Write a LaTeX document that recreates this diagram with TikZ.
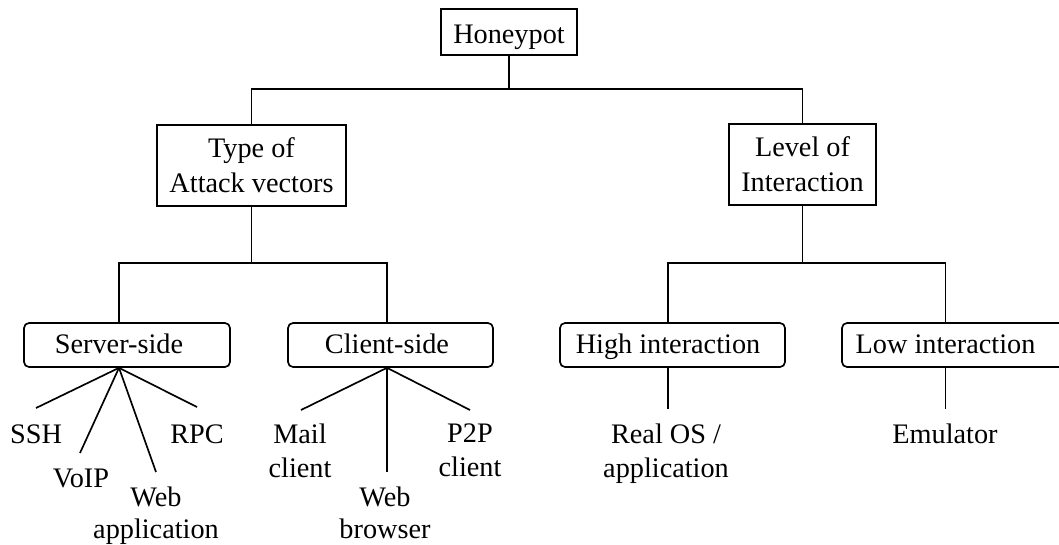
\documentclass[tikz,border=0pt]{standalone}
\usepackage{fontspec}
\setmainfont{Liberation Serif}
\begin{document}
\begin{tikzpicture}[x=0.75pt,y=-0.75pt,
  font=\fontsize{21.2pt}{25.5pt}\selectfont,
  every path/.style={line width=1.25pt},
  sqbox/.style={draw, line width=1.25pt, inner sep=0pt, align=center},
  rbox/.style={draw, line width=1.25pt, inner sep=0pt, rounded corners=3.75pt,
    minimum height=33pt, text height=14.25pt, text depth=2.25pt},
  lbl/.style={inner sep=0pt, align=center}]
\useasboundingbox (0,0) rectangle (1059,544);

% top level
\node[sqbox, minimum width=102pt, minimum height=34.5pt, text height=16.5pt, text depth=0pt] (hp) at (509,32.2) {Honeypot};
\node[sqbox, minimum width=141.75pt, minimum height=60.75pt, font=\fontsize{21.2pt}{26.25pt}\selectfont] (type) at (251.5,165.5) {Type of\\Attack vectors};
\node[sqbox, minimum width=110.25pt, minimum height=60.75pt, font=\fontsize{21.2pt}{26.25pt}\selectfont] (level) at (802.5,164.5) {Level of\\Interaction};

% second level
\node[rbox, minimum width=154.5pt] (ss) at (127,345) {Server-side\hspace*{12pt}};
\node[rbox, minimum width=153.75pt] (cs) at (390.5,345) {Client-side\hspace*{5.25pt}};
\node[rbox, minimum width=168.75pt] (hi) at (672.5,345) {High interaction\hspace*{6.75pt}};
\node[rbox, minimum width=168pt] (lo) at (954,345) {Low interaction\hspace*{12.75pt}};

% leaves
\node[lbl, anchor=base] (ssh) at (36,443) {SSH};
\node[lbl, anchor=base] (voip) at (81,487) {VoIP};
\node[lbl, font=\fontsize{21.2pt}{24pt}\selectfont] (webapp) at (156,515.4) {Web\\application};
\node[lbl, anchor=base] (rpc) at (197,443) {RPC};
\node[lbl] (mail) at (300,450.4) {Mail\\client};
\node[lbl, font=\fontsize{21.2pt}{24pt}\selectfont] (webbr) at (385,512.4) {Web\\browser};
\node[lbl] (p2p) at (470,450.4) {P2P\\client};
\node[lbl] (realos) at (666,453.4) {Real OS /\\application};
\node[lbl, anchor=base] (emu) at (945,443) {Emulator};

% junction coordinates
\coordinate (jtop) at (509,89);
\coordinate (jl) at (251.5,263);
\coordinate (jr) at (802.5,263);
\coordinate (sscol) at (119,263);
\coordinate (cscol) at (387,263);
\coordinate (hicol) at (668,263);
\coordinate (locol) at (945.5,263);

% tree edges
\draw (hp.south) -- (jtop);
\draw (type.north) |- (jtop) -| (level.north);
\draw (type.south) -- (jl);
\draw (level.south) -- (jr);
\draw (ss.north -| sscol) -- (sscol) -- (cscol) -- (cs.north -| cscol);
\draw (hi.north -| hicol) -- (hicol) -- (locol) -- (lo.north -| locol);

% fans
\coordinate (ssfan) at (ss.south -| sscol);
\coordinate (csfan) at (cs.south -| cscol);
\coordinate (hifan) at (hi.south -| hicol);
\coordinate (lofan) at (lo.south -| locol);
\coordinate (essh) at (36,408);
\coordinate (evoip) at (80,453);
\coordinate (ewebapp) at (156,472);
\coordinate (erpc) at (197,407);
\coordinate (email) at (301,410);
\coordinate (ewebbr) at (387,472);
\coordinate (ep2p) at (470,410);
\coordinate (ereal) at (668,409);
\coordinate (eemu) at (945.5,409);

\draw (ssfan) -- (essh);
\draw (ssfan) -- (evoip);
\draw (ssfan) -- (ewebapp);
\draw (ssfan) -- (erpc);
\draw (csfan) -- (email);
\draw (csfan) -- (ewebbr);
\draw (csfan) -- (ep2p);
\draw (hifan) -- (ereal);
\draw (lofan) -- (eemu);
\end{tikzpicture}
\end{document}
